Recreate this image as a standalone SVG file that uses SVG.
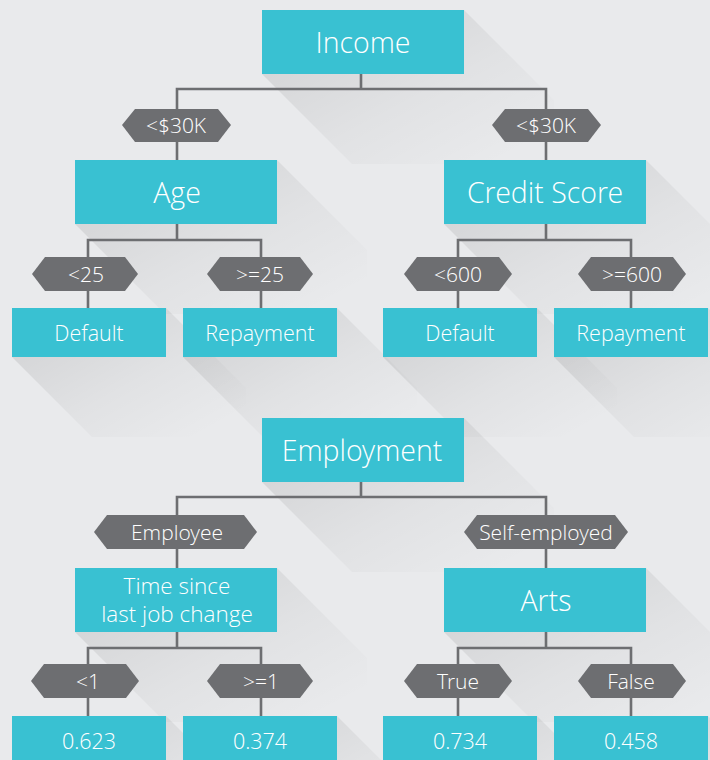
<svg xmlns="http://www.w3.org/2000/svg" xmlns:xlink="http://www.w3.org/1999/xlink" width="710" height="760" viewBox="0 0 710 760">
<style>
.box{fill:#39c1d2;}
.hex{fill:#6d6e71;}
.ln{stroke:#6d6e71;stroke-width:2.6;fill:none;stroke-linecap:square;}
.sh{fill:url(#shg);}
text{font-family:"Open Sans Light","Open Sans","Noto Sans","Liberation Sans",sans-serif;font-weight:300;fill:#ffffff;text-anchor:middle;dominant-baseline:central;}
.big{font-size:28.5px;}
.mid{font-size:22.5px;}
.leaf{font-size:21.5px;}
.lab{font-size:21px;}
</style>
<defs>
<linearGradient id="shg" x1="0" y1="0" x2="1" y2="1">
<stop offset="0.2" stop-color="#000" stop-opacity="0.085"/>
<stop offset="0.55" stop-color="#000" stop-opacity="0.035"/>
<stop offset="0.9" stop-color="#000" stop-opacity="0"/>
</linearGradient>
<polygon id="shBig" class="sh" points="0,0 202,0 292,90 292,154 90,154 0,64"/>
<polygon id="shLeaf" class="sh" points="0,0 154,0 234,80 234,129 80,129 0,49"/>
</defs>
<rect x="0" y="0" width="710" height="760" fill="#e9eaec"/>

<g id="shadows">
<use xlink:href="#shBig" x="262" y="10"/>
<use xlink:href="#shBig" x="75" y="160"/>
<use xlink:href="#shBig" x="444" y="160"/>
<use xlink:href="#shLeaf" x="12" y="308"/>
<use xlink:href="#shLeaf" x="183" y="308"/>
<use xlink:href="#shLeaf" x="383" y="308"/>
<use xlink:href="#shLeaf" x="554" y="308"/>
<use xlink:href="#shBig" x="262" y="418"/>
<use xlink:href="#shBig" x="75" y="568"/>
<use xlink:href="#shBig" x="444" y="568"/>
<use xlink:href="#shLeaf" x="12" y="716"/>
<use xlink:href="#shLeaf" x="183" y="716"/>
<use xlink:href="#shLeaf" x="383" y="716"/>
<use xlink:href="#shLeaf" x="554" y="716"/>
</g>

<g id="connectors">
<path class="ln" d="M361,74V89M177,160V89H546V160"/>
<path class="ln" d="M177,224V240M88,308V240H261V308"/>
<path class="ln" d="M546,224V240M458,308V240H631V308"/>
<path class="ln" d="M361,482V497M177,568V497H546V568"/>
<path class="ln" d="M177,632V648M88,716V648H261V716"/>
<path class="ln" d="M546,632V648M458,716V648H631V716"/>
</g>

<g id="income"><rect class="box" x="262" y="10" width="202" height="64"/><text class="big" x="363" y="42">Income</text></g>
<g id="lbl-income-left"><polygon class="hex" points="122,125 135,109 218,109 231,125 218,142 135,142"/><text class="lab" x="176" y="125">&lt;$30K</text></g>
<g id="lbl-income-right"><polygon class="hex" points="492,125 505,109 588,109 601,125 588,142 505,142"/><text class="lab" x="546" y="125">&lt;$30K</text></g>
<g id="age"><rect class="box" x="75" y="160" width="202" height="64"/><text class="big" x="177" y="192">Age</text></g>
<g id="credit-score"><rect class="box" x="444" y="160" width="202" height="64"/><text class="big" x="545" y="192">Credit Score</text></g>
<g id="lbl-age-lt25"><polygon class="hex" points="32,274 45,257 125,257 138,274 125,291 45,291"/><text class="lab" x="86" y="274">&lt;25</text></g>
<g id="lbl-age-ge25"><polygon class="hex" points="207,274 220,257 300,257 313,274 300,291 220,291"/><text class="lab" x="260" y="274">&gt;=25</text></g>
<g id="lbl-credit-lt600"><polygon class="hex" points="404,274 417,257 499,257 512,274 499,291 417,291"/><text class="lab" x="458" y="274">&lt;600</text></g>
<g id="lbl-credit-ge600"><polygon class="hex" points="578,274 591,257 673,257 686,274 673,291 591,291"/><text class="lab" x="632" y="274">&gt;=600</text></g>
<g id="age-default"><rect class="box" x="12" y="308" width="154" height="49"/><text class="leaf" x="89" y="332">Default</text></g>
<g id="age-repayment"><rect class="box" x="183" y="308" width="154" height="49"/><text class="leaf" x="260" y="332">Repayment</text></g>
<g id="credit-default"><rect class="box" x="383" y="308" width="154" height="49"/><text class="leaf" x="460" y="332">Default</text></g>
<g id="credit-repayment"><rect class="box" x="554" y="308" width="154" height="49"/><text class="leaf" x="631" y="332">Repayment</text></g>

<g id="employment"><rect class="box" x="262" y="418" width="202" height="64"/><text class="big" x="362" y="450">Employment</text></g>
<g id="lbl-employee"><polygon class="hex" points="94,532 107,515 244,515 257,532 244,549 107,549"/><text class="lab" x="177" y="532">Employee</text></g>
<g id="lbl-self-employed"><polygon class="hex" points="464,532 477,515 615,515 628,532 615,549 477,549"/><text class="lab" x="546" y="532">Self-employed</text></g>
<g id="time-since"><rect class="box" x="75" y="568" width="202" height="64"/><text class="mid" x="177" y="585">Time since</text><text class="mid" x="177" y="613">last job change</text></g>
<g id="arts"><rect class="box" x="444" y="568" width="202" height="64"/><text class="big" x="546" y="600">Arts</text></g>
<g id="lbl-lt1"><polygon class="hex" points="31,681 44,664 126,664 139,681 126,698 44,698"/><text class="lab" x="88" y="681">&lt;1</text></g>
<g id="lbl-ge1"><polygon class="hex" points="207,681 220,664 300,664 313,681 300,698 220,698"/><text class="lab" x="261" y="681">&gt;=1</text></g>
<g id="lbl-true"><polygon class="hex" points="404,681 417,664 499,664 512,681 499,698 417,698"/><text class="lab" x="458" y="681">True</text></g>
<g id="lbl-false"><polygon class="hex" points="578,681 591,664 673,664 686,681 673,698 591,698"/><text class="lab" x="631" y="681">False</text></g>
<g id="leaf-0623"><rect class="box" x="12" y="716" width="154" height="49"/><text class="leaf" x="89" y="740">0.623</text></g>
<g id="leaf-0374"><rect class="box" x="183" y="716" width="154" height="49"/><text class="leaf" x="260" y="740">0.374</text></g>
<g id="leaf-0734"><rect class="box" x="383" y="716" width="154" height="49"/><text class="leaf" x="460" y="740">0.734</text></g>
<g id="leaf-0458"><rect class="box" x="554" y="716" width="154" height="49"/><text class="leaf" x="631" y="740">0.458</text></g>
</svg>
